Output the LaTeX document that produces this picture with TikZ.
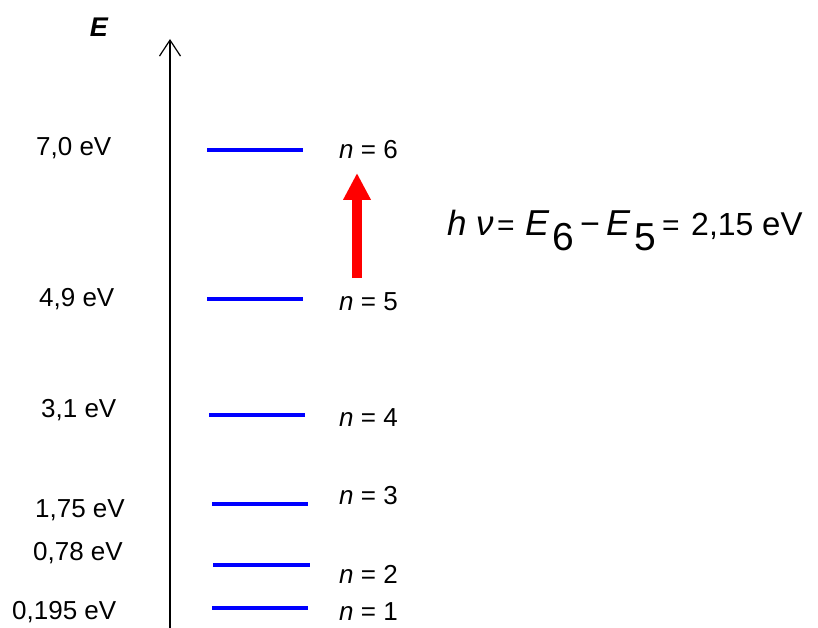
\documentclass[tikz,border=0pt]{standalone}
\usepackage{fontspec}
\setmainfont{Liberation Sans}
\usetikzlibrary{arrows.meta}
\begin{document}
\begin{tikzpicture}[x=1pt,y=-1pt,
  level/.style={draw=blue,line width=3.5pt},
  lbl/.style={font=\fontsize{26}{28}\selectfont,inner sep=0pt,anchor=west},
  nlbl/.style={font=\fontsize{26}{28}\selectfont,inner sep=0pt,anchor=west},
  eqp/.style={inner sep=0pt,anchor=base west}]
\useasboundingbox (0,0) rectangle (818,628);
% axis
\coordinate (ab) at (170,628);
\coordinate (at) at (170,39);
\draw[line width=1.2pt,-{Straight Barb[length=16pt,width=21pt,line width=1.2pt]}] (ab) -- (at);
\node[font=\fontsize{27}{29}\selectfont\bfseries\itshape,inner sep=0pt] (E) at (99,27) {E};
% levels
\foreach \nm/\xa/\xb/\yy in {l6/207/303/150, l5/207/303/299, l4/209/305/415, l3/212/308/504, l2/213/310/565, l1/212/308/608}{
  \coordinate (\nm a) at (\xa,\yy);
  \coordinate (\nm b) at (\xb,\yy);
  \draw[level] (\nm a) -- (\nm b);
}
% energy labels
\node[lbl] (e6) at (36,148) {7,0 eV};
\node[lbl] (e5) at (39,299) {4,9 eV};
\node[lbl] (e4) at (41,410) {3,1 eV};
\node[lbl] (e3) at (35,510) {1,75 eV};
\node[lbl] (e2) at (33,553) {0,78 eV};
\node[lbl] (e1) at (12,612) {0,195 eV};
% n labels
\node[nlbl] (n6) at (339,150) {\textit{n} = 6};
\node[nlbl] (n5) at (339,302) {\textit{n} = 5};
\node[nlbl] (n4) at (339,418) {\textit{n} = 4};
\node[nlbl] (n3) at (339,496) {\textit{n} = 3};
\node[nlbl] (n2) at (339,574) {\textit{n} = 2};
\node[nlbl] (n1) at (339,612) {\textit{n} = 1};
% red arrow
\coordinate (rb) at (357,278);
\coordinate (rt) at (357,173);
\draw[red,line width=10pt,-{Triangle[length=27pt,width=26pt]}] (rb) -- (rt);
% equation
\node[eqp,font=\fontsize{35}{37}\selectfont\itshape] (eqh) at (447,235) {h};
\node[eqp,font=\fontsize{35}{37}\selectfont\itshape] (eqnu) at (476,235) {ν};
\node[eqp,font=\fontsize{30}{32}\selectfont] (eqa) at (497,235) {=};
\node[eqp,font=\fontsize{36}{38}\selectfont\itshape] (eqE6) at (525,235) {E};
\node[eqp,font=\fontsize{39}{41}\selectfont] (eqs6) at (552,250) {6};
\node[eqp,font=\fontsize{34}{36}\selectfont] (eqm) at (580,235) {−};
\node[eqp,font=\fontsize{36}{38}\selectfont\itshape] (eqE5) at (606,235) {E};
\node[eqp,font=\fontsize{39}{41}\selectfont] (eqs5) at (634,250) {5};
\node[eqp,font=\fontsize{30}{32}\selectfont] (eqb) at (662,235) {=};
\node[eqp,font=\fontsize{32}{34}\selectfont] (eqv) at (691,235) {2,15};
\node[eqp,font=\fontsize{33}{35}\selectfont] (equ) at (762,235) {eV};
\end{tikzpicture}
\end{document}
